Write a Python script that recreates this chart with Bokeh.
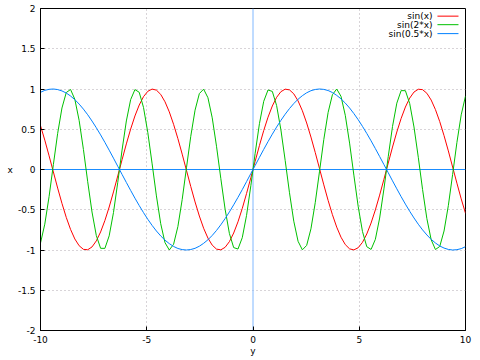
from bokeh.plotting import figure
from bokeh.models import Range1d, FixedTicker
from bokeh.embed import file_html
from bokeh.resources import INLINE
from bokeh.core.properties import value

# ---------------- data (gnuplot default 100 samples on [-10, 10]) ----------------
x = [-10.0, -9.798, -9.596, -9.394, -9.192, -8.990, -8.788, -8.586, -8.384, -8.182,
     -7.980, -7.778, -7.576, -7.374, -7.172, -6.970, -6.768, -6.566, -6.364, -6.162,
     -5.960, -5.758, -5.556, -5.354, -5.152, -4.949, -4.747, -4.545, -4.343, -4.141,
     -3.939, -3.737, -3.535, -3.333, -3.131, -2.929, -2.727, -2.525, -2.323, -2.121,
     -1.919, -1.717, -1.515, -1.313, -1.111, -0.909, -0.707, -0.505, -0.303, -0.101,
     0.101, 0.303, 0.505, 0.707, 0.909, 1.111, 1.313, 1.515, 1.717, 1.919,
     2.121, 2.323, 2.525, 2.727, 2.929, 3.131, 3.333, 3.535, 3.737, 3.939,
     4.141, 4.343, 4.545, 4.747, 4.949, 5.152, 5.354, 5.556, 5.758, 5.960,
     6.162, 6.364, 6.566, 6.768, 6.970, 7.172, 7.374, 7.576, 7.778, 7.980,
     8.182, 8.384, 8.586, 8.788, 8.990, 9.192, 9.394, 9.596, 9.798, 10.0]

sin_x = [0.544, 0.365, 0.170, -0.031, -0.231, -0.421, -0.595, -0.744, -0.863, -0.947,
         -0.992, -0.997, -0.962, -0.887, -0.776, -0.634, -0.466, -0.279, -0.080, 0.121,
         0.318, 0.502, 0.665, 0.801, 0.905, 0.972, 0.999, 0.986, 0.933, 0.841,
         0.716, 0.561, 0.384, 0.191, -0.010, -0.211, -0.403, -0.578, -0.730, -0.852,
         -0.940, -0.989, -0.998, -0.967, -0.896, -0.789, -0.650, -0.484, -0.298, -0.101,
         0.101, 0.298, 0.484, 0.650, 0.789, 0.896, 0.967, 0.998, 0.989, 0.940,
         0.852, 0.730, 0.578, 0.403, 0.211, 0.010, -0.191, -0.384, -0.561, -0.716,
         -0.841, -0.933, -0.986, -0.999, -0.972, -0.905, -0.801, -0.665, -0.502, -0.318,
         -0.121, 0.080, 0.279, 0.466, 0.634, 0.776, 0.887, 0.962, 0.997, 0.992,
         0.947, 0.863, 0.744, 0.595, 0.421, 0.231, 0.031, -0.170, -0.365, -0.544]

sin_2x = [-0.913, -0.679, -0.336, 0.062, 0.449, 0.764, 0.956, 0.994, 0.872, 0.610,
          0.249, -0.152, -0.528, -0.820, -0.979, -0.980, -0.824, -0.535, -0.160, 0.241,
          0.603, 0.868, 0.993, 0.959, 0.770, 0.457, 0.070, -0.328, -0.673, -0.909,
          -1.000, -0.929, -0.709, -0.374, 0.021, 0.412, 0.737, 0.943, 0.998, 0.892,
          0.642, 0.289, -0.111, -0.493, -0.795, -0.970, -0.988, -0.847, -0.570, -0.201,
          0.201, 0.570, 0.847, 0.988, 0.970, 0.795, 0.493, 0.111, -0.289, -0.642,
          -0.892, -0.998, -0.943, -0.737, -0.412, -0.021, 0.374, 0.709, 0.929, 1.000,
          0.909, 0.673, 0.328, -0.070, -0.457, -0.770, -0.959, -0.993, -0.868, -0.603,
          -0.241, 0.160, 0.535, 0.824, 0.980, 0.979, 0.820, 0.528, 0.152, -0.249,
          -0.610, -0.872, -0.994, -0.956, -0.764, -0.449, -0.062, 0.336, 0.679, 0.913]

sin_half_x = [0.959, 0.983, 0.996, 1.000, 0.993, 0.976, 0.950, 0.913, 0.868, 0.813,
              0.750, 0.680, 0.602, 0.519, 0.430, 0.337, 0.240, 0.141, 0.040, -0.061,
              -0.161, -0.260, -0.356, -0.448, -0.536, -0.619, -0.695, -0.764, -0.825, -0.878,
              -0.921, -0.956, -0.981, -0.995, -1.000, -0.994, -0.979, -0.953, -0.917, -0.873,
              -0.819, -0.757, -0.687, -0.610, -0.527, -0.439, -0.346, -0.250, -0.151, -0.050,
              0.050, 0.151, 0.250, 0.346, 0.439, 0.527, 0.610, 0.687, 0.757, 0.819,
              0.873, 0.917, 0.953, 0.979, 0.994, 1.000, 0.995, 0.981, 0.956, 0.921,
              0.878, 0.825, 0.764, 0.695, 0.619, 0.536, 0.448, 0.356, 0.260, 0.161,
              0.061, -0.040, -0.141, -0.240, -0.337, -0.430, -0.519, -0.602, -0.680, -0.750,
              -0.813, -0.868, -0.913, -0.950, -0.976, -0.993, -1.000, -0.996, -0.983, -0.959]

series_names = ["sin(x)", "sin(2*x)", "sin(0.5*x)"]
series_values = [sin_x, sin_2x, sin_half_x]
series_colors = ["#ff0000", "#00c000", "#0080ff"]

x_ticks = [-10, -5, 0, 5, 10]
x_tick_labels = ["-10", "-5", "0", "5", "10"]
y_ticks = [-2, -1.5, -1, -0.5, 0, 0.5, 1, 1.5, 2]
y_tick_labels = ["-2", "-1.5", "-1", "-0.5", "0", "0.5", "1", "1.5", "2"]
zero = 0
x_label = "y"
y_label = "x"

# ---------------- style ----------------
FONT = "DejaVu Sans"
FS = "9px"
GRID = "#b0a8b0"
ZERO_H = "#1a8cff"
ZERO_V = "#80b8ff"
ZERO_THICK = 0.0125   # about one pixel in data units of the y axis

xmin, xmax = x_ticks[0], x_ticks[-1]
ymin, ymax = y_ticks[0], y_ticks[-1]

p = figure(width=478, height=358,
           x_range=Range1d(xmin, xmax), y_range=Range1d(ymin, ymax),
           output_backend="svg", toolbar_location=None,
           min_border_left=40, min_border_right=13,
           min_border_top=8, min_border_bottom=26)
p.background_fill_color = "white"
p.border_fill_color = "white"
p.outline_line_color = "black"
p.outline_line_width = 1

p.xaxis.ticker = FixedTicker(ticks=x_ticks)
p.yaxis.ticker = FixedTicker(ticks=y_ticks)
p.xaxis.major_label_overrides = dict(zip(x_ticks, x_tick_labels))
p.yaxis.major_label_overrides = dict(zip(y_ticks, y_tick_labels))
p.xaxis.axis_label = x_label
p.yaxis.axis_label = y_label
p.yaxis.axis_label_orientation = "horizontal"
for ax in (p.xaxis, p.yaxis):
    ax.axis_line_color = "black"
    ax.major_tick_line_color = "black"
    ax.major_tick_in = 4
    ax.major_tick_out = 0
    ax.minor_tick_line_color = None
    ax.major_label_text_font = FONT
    ax.major_label_text_font_size = FS
    ax.major_label_text_color = "black"
    ax.major_label_standoff = 5
    ax.axis_label_text_font = FONT
    ax.axis_label_text_font_size = FS
    ax.axis_label_text_font_style = "normal"
    ax.axis_label_text_color = "black"
    ax.axis_label_standoff = 0
p.yaxis.axis_label_standoff = 2

p.xgrid.ticker = FixedTicker(ticks=[t for t in x_ticks if t != zero])
p.ygrid.ticker = FixedTicker(ticks=[t for t in y_ticks if t != zero])
for g in (p.xgrid, p.ygrid):
    g.grid_line_color = GRID
    g.grid_line_dash = "1 3"
    g.grid_line_width = 1

# zero axes (gnuplot "set zeroaxis")
p.segment(x0=[zero], y0=[ymin], x1=[zero], y1=[ymax], line_color=ZERO_V, line_width=1)
p.hbar(y=[zero], left=xmin, right=xmax, height=ZERO_THICK,
       fill_color=ZERO_H, line_color=None)

for name, vals, col in zip(series_names, series_values, series_colors):
    p.line(x, vals, line_color=col, line_width=1)

# legend (gnuplot style: text right-aligned, sample line to its right)
leg_text_x = 8.45
leg_x0, leg_x1 = 8.68, 9.67
leg_y = [1.905, 1.799, 1.688]
p.text(x=[leg_text_x] * 3, y=leg_y, text=series_names,
       text_align="right", text_baseline="middle",
       text_font=value(FONT), text_font_size=FS, text_color="black")
p.segment(x0=[leg_x0] * 3, y0=leg_y, x1=[leg_x1] * 3, y1=leg_y,
          line_color=series_colors, line_width=1)

open("out.html", "w").write(file_html(p, INLINE))
